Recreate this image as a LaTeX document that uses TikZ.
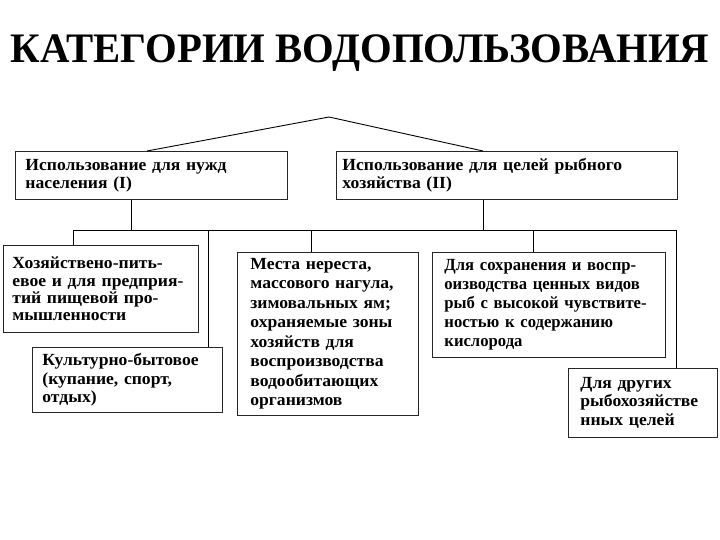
\documentclass[tikz,border=0pt]{standalone}
\usepackage{fontspec}
\setmainfont{Liberation Serif}
\newfontfamily\boxfont[FakeStretch=1.035]{Liberation Serif Bold}
\newfontfamily\boxfontnarrow[FakeStretch=0.98]{Liberation Serif Bold}
\newfontfamily\titlefont[FakeStretch=0.97]{Liberation Serif Bold}
\usetikzlibrary{positioning, calc}

\begin{document}
\begin{tikzpicture}[
    x=1pt, y=-1pt, % pixel grid of the slide
    catbox/.style={draw=black!85, line width=0.8pt, anchor=north west,
        inner xsep=10pt, inner ysep=0pt, align=left,
        font=\boxfont\fontsize{17}{18}\selectfont},
    link/.style={draw, line width=0.9pt}
]
    \useasboundingbox (0,0) rectangle (720,540);

    % Title
    \node (title) at (360,53) {\titlefont\fontsize{42}{46}\selectfont КАТЕГОРИИ ВОДОПОЛЬЗОВАНИЯ};

    % Two main categories
    \node (use1) [catbox, text width=252pt, minimum height=48pt] at (15,151)
        {Использование для нужд\\населения (I)};
    \node (use2) [catbox, inner xsep=6pt, text width=329pt, minimum height=48pt] at (336,151)
        {Использование для целей рыбного\\хозяйства (II)};

    % Kinds of water use
    \node (drink) [catbox, inner xsep=9pt, text width=177pt, minimum height=87pt,
        font=\boxfont\fontsize{17}{17.2}\selectfont] at (3,245)
        {Хозяйствено-пить-\\евое и для предприя-\\тий пищевой про-\\\mbox{мышленности}};
    \node (leisure) [catbox, inner xsep=10pt, text width=170pt, minimum height=65pt,
        font=\boxfont\fontsize{17}{18.5}\selectfont] at (32,347)
        {\mbox{Культурно-бытовое}\\(купание, спорт,\\отдых)};
    \node (spawn) [catbox, inner xsep=13pt, text width=155pt, minimum height=163pt,
        font=\boxfont\fontsize{17}{19.5}\selectfont] at (237,252)
        {Места нереста,\\массового нагула,\\зимовальных ям;\\охраняемые зоны\\хозяйств для\\воспроизводства\\водообитающих\\организмов};
    \node (rare) [catbox, inner xsep=12pt, text width=209pt, minimum height=105pt,
        font=\boxfontnarrow\fontsize{17}{19}\selectfont] at (432,252)
        {Для сохранения и воспр-\\оизводства ценных видов\\\mbox{рыб с высокой чувствите-}\\ностью к содержанию\\кислорода};
    \node (other) [catbox, inner xsep=12pt, text width=125pt, minimum height=69pt,
        font=\boxfont\fontsize{17}{18.5}\selectfont] at (568,368)
        {Для других\\\mbox{рыбохозяйстве}\\нных целей};

    % Roof over the two categories
    \coordinate (top) at (329,117);
    \draw [link] ($(use1.north west)+(132,0)$) -- (top) -- ($(use2.north west)+(147,0)$);

    % Common bus
    \coordinate (busL) at (73,230);
    \coordinate (busR) at (676,230);
    \draw [link] (busL) -- (busR);
    \draw [link] ($(use1.south west)+(116,0)$) coordinate (d1) -- (d1 |- busL);
    \draw [link] ($(use2.south west)+(147,0)$) coordinate (d2) -- (d2 |- busL);

    % Drops to the boxes
    \draw [link] (busL) -- (drink.north -| busL);
    \draw [link] (208,230) coordinate (b2) -- (leisure.north -| b2);
    \draw [link] (311,230) coordinate (b3) -- (spawn.north -| b3);
    \draw [link] (533,230) coordinate (b4) -- (rare.north -| b4);
    \draw [link] (busR) -- (other.north -| busR);
\end{tikzpicture}
\end{document}
